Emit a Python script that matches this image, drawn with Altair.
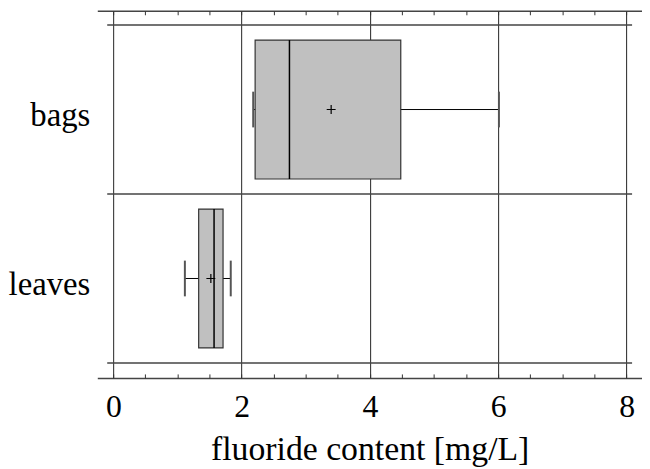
import altair as alt
import pandas as pd

# ---- data ----
categories = ["bags", "leaves"]
whisker_low = [2.18, 1.115]
quartile_1 = [2.21, 1.33]
medians = [2.745, 1.57]
quartile_3 = [4.48, 1.71]
whisker_high = [6.01, 1.83]
means = [3.395, 1.52]

x_major_ticks = [0, 2, 4, 6, 8]
x_minor_ticks = [0, 0.5, 1, 1.5, 2, 2.5, 3, 3.5, 4, 4.5, 5, 5.5, 6, 6.5, 7, 7.5, 8]
x_title = "fluoride content [mg/L]"

# ---- tables built from the arrays ----
n = len(categories)
positions = [n - 1 - i + 0.5 for i in range(n)]
df = pd.DataFrame({
    "category": categories,
    "lo": whisker_low,
    "q1": quartile_1,
    "med": medians,
    "q3": quartile_3,
    "hi": whisker_high,
    "mean": means,
    "pos": positions,
})
edges = pd.DataFrame({"edge": list(range(n + 1))})

W, H = 549, 370
FONT = "Liberation Serif"
FS = 32

xscale = alt.Scale(domain=[-0.25, 8.24], nice=False, zero=False)
yscale = alt.Scale(domain=[-0.059, 2.055], nice=False, zero=False)

axis_main = alt.Axis(
    orient="bottom", values=x_major_ticks, grid=True, gridColor="#222",
    gridWidth=1, gridOpacity=1, domain=True, domainColor="#444", domainWidth=1.5,
    ticks=False, tickSize=0, labelFont=FONT, labelFontSize=FS, labelColor="black",
    labelPadding=14, title=x_title, titleFont=FONT, titleFontSize=34,
    titleFontWeight="normal", titleColor="black", titlePadding=10,
)
axis_ticks_bottom = alt.Axis(
    orient="top", offset=-H, values=x_minor_ticks, grid=False, domain=False,
    ticks=True, tickSize=4, tickColor="#333", tickWidth=1, labels=False, title=None,
)
axis_ticks_top = alt.Axis(
    orient="bottom", offset=-H, values=x_minor_ticks, grid=False, domain=False,
    ticks=True, tickSize=4, tickColor="#333", tickWidth=1, labels=False, title=None,
)
axis_top_line = alt.Axis(
    orient="top", grid=False, domain=True, domainColor="#444", domainWidth=1.5,
    ticks=False, labels=False, title=None,
)

base = alt.Chart(df)

sep = alt.Chart(edges).mark_rule(color="#444", strokeWidth=1.5).encode(
    y=alt.Y("edge:Q", scale=yscale, axis=None),
    x=alt.value(10),
    x2=alt.value(W - 10),
)

cat_labels = base.mark_text(
    align="right", baseline="middle", font=FONT, fontSize=33, color="black", dy=7
).encode(
    y=alt.Y("pos:Q", scale=yscale, axis=None),
    x=alt.value(-7),
    text="category:N",
)

whisk = base.mark_rule(color="black", strokeWidth=1).encode(
    x=alt.X("lo:Q", scale=xscale, axis=axis_top_line),
    x2="hi:Q",
    y=alt.Y("pos:Q", scale=yscale, axis=None),
)

cap_lo = base.mark_tick(orient="vertical", size=36, thickness=2, color="#555", opacity=1).encode(
    x=alt.X("lo:Q", scale=xscale, axis=axis_ticks_top),
    y=alt.Y("pos:Q", scale=yscale, axis=None),
)
cap_hi = base.mark_tick(orient="vertical", size=36, thickness=2, color="#555", opacity=1).encode(
    x=alt.X("hi:Q", scale=xscale, axis=None),
    y=alt.Y("pos:Q", scale=yscale, axis=None),
)

box = base.mark_bar(orient="horizontal", size=140, color="#c0c0c0", stroke="#333",
                    strokeWidth=1.2, opacity=1).encode(
    x=alt.X("q1:Q", scale=xscale, axis=axis_main),
    x2="q3:Q",
    y=alt.Y("pos:Q", scale=yscale, axis=None),
)

median = base.mark_tick(orient="vertical", size=140, thickness=1.5, color="black", opacity=1).encode(
    x=alt.X("med:Q", scale=xscale, axis=axis_ticks_bottom),
    y=alt.Y("pos:Q", scale=yscale, axis=None),
)

mean = base.mark_point(shape="M-1,0H1M0,-1V1", size=81, color="black",
                       strokeWidth=1.2, filled=False, opacity=1).encode(
    x=alt.X("mean:Q", scale=xscale, axis=None),
    y=alt.Y("pos:Q", scale=yscale, axis=None),
)

chart = alt.layer(sep, cat_labels, whisk, cap_lo, cap_hi, box, median, mean).resolve_axis(
    x="independent"
).properties(
    width=W, height=H,
    padding={"left": 0, "top": 0, "right": 0, "bottom": 0},
    background="white",
).configure_view(stroke=None)

chart.save("out.html", embed_options={"renderer": "svg", "actions": False})
